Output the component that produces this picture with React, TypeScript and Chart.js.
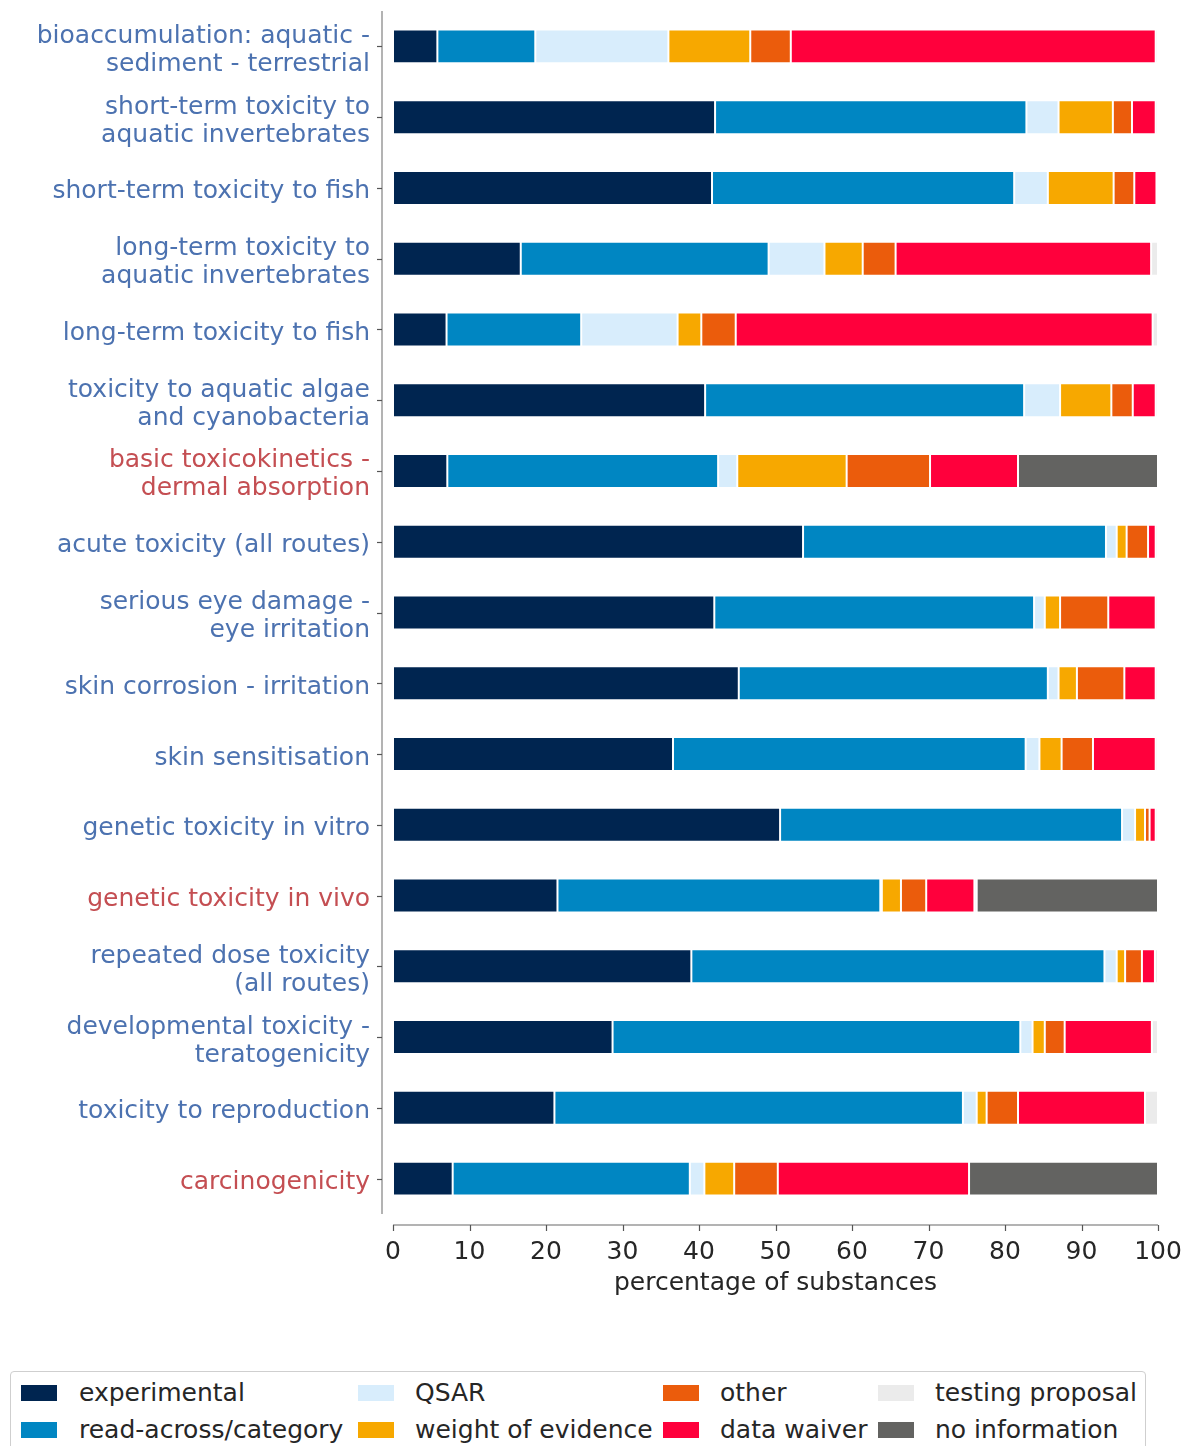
import React, { useEffect, useLayoutEffect, useRef } from 'react';
import { Chart, registerables } from 'chart.js';

Chart.register(...registerables);

const FONT = "'DejaVu Sans', Verdana, sans-serif";

const categories: (string | string[])[] = [
  ['bioaccumulation: aquatic -', 'sediment - terrestrial'],
  ['short-term toxicity to', 'aquatic invertebrates'],
  'short-term toxicity to fish',
  ['long-term toxicity to', 'aquatic invertebrates'],
  'long-term toxicity to fish',
  ['toxicity to aquatic algae', 'and cyanobacteria'],
  ['basic toxicokinetics -', 'dermal absorption'],
  'acute toxicity (all routes)',
  ['serious eye damage -', 'eye irritation'],
  'skin corrosion - irritation',
  'skin sensitisation',
  'genetic toxicity in vitro',
  'genetic toxicity in vivo',
  ['repeated dose toxicity', '(all routes)'],
  ['developmental toxicity -', 'teratogenicity'],
  'toxicity to reproduction',
  'carcinogenicity',
];

// categories whose label is shown in red
const highlighted = [6, 12, 16];

const experimental = [5.8, 42.1, 41.7, 16.7, 7.0, 40.8, 7.1, 53.6, 42.0, 45.2, 36.6, 50.6, 21.5, 39.0, 28.7, 21.1, 7.8];
const readAcross = [12.8, 40.7, 39.5, 32.4, 17.6, 41.7, 35.4, 39.6, 41.8, 40.4, 46.1, 44.7, 42.2, 54.0, 53.3, 53.4, 31.0];
const qsar = [17.4, 4.2, 4.4, 7.3, 12.6, 4.7, 2.5, 1.4, 1.4, 1.4, 1.8, 1.7, 0.2, 1.6, 1.6, 1.8, 1.9];
const weightOfEvidence = [10.7, 7.1, 8.6, 5.0, 3.1, 6.7, 14.3, 1.3, 2.0, 2.4, 2.9, 1.3, 2.5, 1.1, 1.6, 1.3, 3.9];
const other = [5.3, 2.5, 2.7, 4.3, 4.5, 2.8, 10.9, 2.8, 6.3, 6.2, 4.1, 0.6, 3.3, 2.2, 2.6, 4.1, 5.7];
const dataWaiver = [47.7, 3.1, 2.9, 33.4, 54.5, 3.0, 11.5, 1.0, 6.2, 4.1, 8.2, 0.8, 6.3, 1.7, 11.4, 16.6, 25.0];
const testingProposal = [0.3, 0.3, 0.2, 0.9, 0.7, 0.3, 0, 0.3, 0.3, 0.3, 0.3, 0.3, 0.3, 0.4, 0.8, 1.7, 0];
const noInformation = [0, 0, 0, 0, 0, 0, 18.3, 0, 0, 0, 0, 0, 23.7, 0, 0, 0, 24.7];

const seriesNames = [
  'experimental',
  'read-across/category',
  'QSAR',
  'weight of evidence',
  'other',
  'data waiver',
  'testing proposal',
  'no information',
];
const seriesValues = [experimental, readAcross, qsar, weightOfEvidence, other, dataWaiver, testingProposal, noInformation];
const seriesColors = ['#002550', '#0086C2', '#D8EDFC', '#F7A800', '#EB5C0C', '#FF003C', '#EBEBEB', '#636361'];

const xTicks = [0, 10, 20, 30, 40, 50, 60, 70, 80, 90, 100];
const xTitle = 'percentage of substances';

// legend in column-major order (2 rows x 4 columns)
const legendColumns = [
  [0, 1],
  [2, 3],
  [4, 5],
  [6, 7],
];

const spinePlugin = {
  id: 'offsetSpines',
  afterDraw(chart: any) {
    const { ctx, chartArea } = chart;
    const xs = chart.scales.x;
    const ys = chart.scales.y;
    const off = 11;
    ctx.save();
    // y spine
    const sx = chartArea.left - off;
    ctx.strokeStyle = '#9a9a9a';
    ctx.lineWidth = 1.5;
    ctx.beginPath();
    ctx.moveTo(sx, chartArea.top);
    ctx.lineTo(sx, chartArea.bottom);
    ctx.stroke();
    ctx.strokeStyle = '#555555';
    ctx.lineWidth = 1.2;
    for (let i = 0; i < categories.length; i++) {
      const py = Math.round(ys.getPixelForValue(i)) + 0.5;
      ctx.beginPath();
      ctx.moveTo(sx - 5, py);
      ctx.lineTo(sx, py);
      ctx.stroke();
    }
    // x spine
    const sy = chartArea.bottom + off;
    ctx.strokeStyle = '#9a9a9a';
    ctx.lineWidth = 1.5;
    ctx.beginPath();
    ctx.moveTo(chartArea.left, sy);
    ctx.lineTo(chartArea.right, sy);
    ctx.stroke();
    ctx.strokeStyle = '#555555';
    ctx.lineWidth = 1.2;
    for (const v of xTicks) {
      const px = Math.round(xs.getPixelForValue(v)) + 0.5;
      ctx.beginPath();
      ctx.moveTo(px, sy);
      ctx.lineTo(px, sy + 6);
      ctx.stroke();
    }
    ctx.restore();
  },
};

const PAGE_W = 1186;
const PAGE_H = 1446;
const CANVAS_W = 1176;

export default function App() {
  const ref = useRef<HTMLCanvasElement>(null);

  useLayoutEffect(() => {
    const prevMargin = document.body.style.margin;
    const prevHtml = document.documentElement.style.overflow;
    document.body.style.margin = '0';
    document.documentElement.style.overflow = 'hidden';
    return () => {
      document.body.style.margin = prevMargin;
      document.documentElement.style.overflow = prevHtml;
    };
  }, []);

  useEffect(() => {
    const canvas = ref.current;
    if (!canvas) return;
    const chart = new Chart(canvas, {
      type: 'bar',
      data: {
        labels: categories as any,
        datasets: seriesNames.map((name, i) => ({
          label: name,
          data: seriesValues[i],
          backgroundColor: seriesColors[i],
          borderColor: 'rgba(255,255,255,0.75)',
          borderWidth: (c: any) => (c.raw === 0 ? 0 : 1),
          borderSkipped: false,
          barPercentage: 0.48,
          categoryPercentage: 1,
        })),
      },
      options: {
        indexAxis: 'y',
        responsive: false,
        animation: false,
        devicePixelRatio: 1,
        layout: { padding: { top: 3, right: CANVAS_W - 1150, left: 0, bottom: 0 } },
        plugins: {
          legend: { display: false },
          tooltip: { enabled: false },
        },
        scales: {
          x: {
            stacked: true,
            min: 0,
            max: 100,
            grid: { display: false, drawTicks: false },
            border: { display: false },
            afterBuildTicks: (s: any) => {
              s.ticks = xTicks.map((v) => ({ value: v }));
            },
            afterFit: (s: any) => {
              s.height = 94;
              s.paddingLeft = 0;
              s.paddingRight = 0;
            },
            ticks: {
              padding: 23,
              color: '#262626',
              font: { family: FONT, size: 25 },
              maxRotation: 0,
              autoSkip: false,
            },
            title: {
              display: true,
              text: xTitle,
              color: '#262626',
              font: { family: FONT, size: 25 },
              padding: { top: 0, bottom: 10 },
            },
          },
          y: {
            stacked: true,
            grid: { display: false, drawTicks: false },
            border: { display: false },
            afterFit: (s: any) => {
              s.width = 385;
              s.paddingTop = 0;
              s.paddingBottom = 0;
            },
            ticks: {
              padding: 23,
              labelOffset: 4,
              autoSkip: false,
              color: (c: any) => (highlighted.includes(c.index) ? '#C44E52' : '#4C72B0'),
              font: { family: FONT, size: 25, lineHeight: 1.12 },
            },
          },
        },
      } as any,
      plugins: [spinePlugin],
    });
    return () => chart.destroy();
  }, []);

  return (
    <div
      style={{
        position: 'relative',
        width: PAGE_W,
        height: PAGE_H,
        boxSizing: 'border-box',
        paddingLeft: 8,
        paddingTop: 8,
        overflow: 'hidden',
        background: '#fff',
      }}
    >
      <canvas
        ref={ref}
        width={CANVAS_W}
        height={1300}
        style={{ display: 'block', width: CANVAS_W, height: 1300 }}
      />
      <div
        style={{
          position: 'absolute',
          left: 10,
          top: 1371,
          width: 1136,
          height: 90,
          boxSizing: 'border-box',
          border: '1.5px solid #cfcfcf',
          borderRadius: 4,
          background: '#fff',
          fontFamily: FONT,
          fontSize: 25,
          color: '#262626',
        }}
      >
        {legendColumns.map((col, ci) =>
          col.map((si, ri) => {
            const swatchLeft = [10, 347, 652, 867][ci];
            const textLeft = [68, 404, 709, 924][ci];
            const centerY = [21, 58][ri];
            return (
              <React.Fragment key={si}>
                <div
                  style={{
                    position: 'absolute',
                    left: swatchLeft,
                    top: centerY - 8,
                    width: 36,
                    height: 16,
                    background: seriesColors[si],
                  }}
                />
                <div
                  style={{
                    position: 'absolute',
                    left: textLeft,
                    top: centerY - 15,
                    height: 30,
                    lineHeight: '30px',
                    whiteSpace: 'nowrap',
                  }}
                >
                  {seriesNames[si]}
                </div>
              </React.Fragment>
            );
          })
        )}
      </div>
    </div>
  );
}
